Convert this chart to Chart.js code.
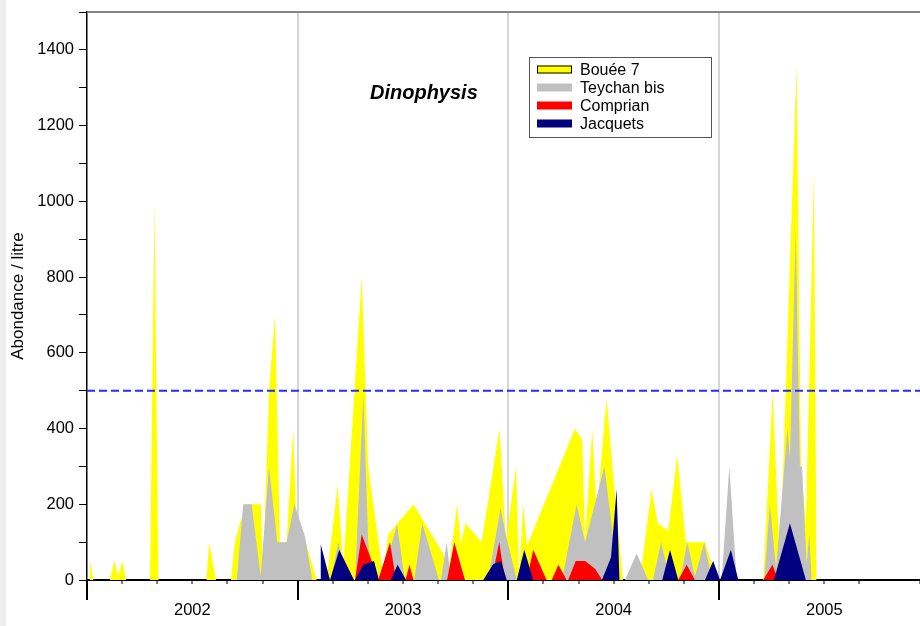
<!DOCTYPE html>
<html lang="fr">
<head>
<meta charset="UTF-8">
<title>Dinophysis</title>
<script src="https://cdn.jsdelivr.net/npm/chart.js@4.4.1/dist/chart.umd.min.js"></script>
<style>
  html, body { margin: 0; padding: 0; background: #fff; }
  #wrap { width: 920px; height: 626px; }
</style>
</head>
<body>
<div id="wrap"><canvas id="chart" width="920" height="626"></canvas></div>
<script>
// x values are months counted from January 2002
const YEARS = ["2002", "2003", "2004", "2005"];
const X_MAX = 47.45;
const THRESHOLD = 500;

const boueeMonths = [0.17, 0.37, 1.31, 1.555, 1.78, 2.01, 2.22, 3.59, 3.84, 4.07, 6.81, 6.95, 7.35, 8.20, 8.43, 8.71, 9.11, 9.91, 10.02, 10.37,
  10.71, 10.99, 11.37, 11.75, 11.90, 13.08, 13.65, 14.28, 14.60, 15.65, 16.02, 16.86, 17.16, 18.60, 20.28, 20.62, 21.09, 21.30, 21.56, 22.48,
  23.50, 23.87, 24.44, 24.61, 24.85, 25.06, 27.80, 28.21, 28.37, 28.78, 29.03, 29.60, 30.08, 30.53, 31.50, 32.16, 32.51, 33.11, 33.62, 34.12,
  35.20, 35.67, 35.83, 38.52, 39.06, 39.47, 40.42, 40.67, 40.95, 41.41, 41.56];
const boueeValues = [50, 0, 0, 50, 10, 50, 0, 0, 1000, 0, 0, 100, 0, 0, 100, 150, 200, 200, 15, 500,
  700, 100, 100, 400, 190, 0, 0, 250, 35, 800, 300, 15, 120, 200, 70, 30, 200, 95, 150, 100,
  400, 105, 300, 10, 200, 90, 400, 370, 105, 400, 175, 480, 220, 0, 0, 240, 150, 130, 330, 100,
  100, 30, 0, 0, 500, 35, 1360, 300, 150, 1080, 0];

const teychanMonths = [8.53, 8.90, 9.38, 9.89, 10.37, 10.84, 11.37, 11.81, 12.42, 12.83, 13.90, 14.31, 14.81, 15.27, 15.74, 16.02, 16.29, 16.80,
  17.66, 18.11, 18.64, 19.10, 20.05, 20.16, 20.49, 20.73, 22.84, 23.56, 23.81, 24.48, 27.06, 27.89, 28.37, 29.47, 29.90, 30.19, 30.64, 31.31,
  31.97, 32.24, 32.70, 33.21, 33.78, 34.19, 34.63, 35.16, 35.60, 36.15, 36.59, 37.01, 38.58, 38.90, 39.25, 39.90, 40.04, 40.37, 40.61, 40.73,
  40.99, 41.14, 41.28];
const teychanValues = [0, 200, 200, 10, 300, 100, 100, 200, 115, 0, 0, 100, 0, 0, 490, 100, 0, 0,
  148, 0, 0, 150, 0, 0, 100, 0, 0, 190, 130, 0, 0, 200, 100, 300, 140, 0, 0, 70,
  0, 0, 100, 0, 0, 100, 10, 100, 0, 0, 300, 0, 0, 200, 30, 400, 320, 920, 300, 300,
  40, 120, 0];

const comprianMonths = [15.27, 15.65, 16.22, 16.59, 17.26, 17.60, 18.14, 18.37, 18.60, 20.51, 20.92, 21.53, 23.05, 23.48, 23.81, 25.05, 25.42,
  26.18, 26.47, 26.85, 27.32, 27.41, 27.84, 28.37, 28.94, 29.35, 33.68, 34.16, 34.63, 38.52, 39.04, 39.38];
const comprianValues = [0, 120, 50, 0, 100, 0, 0, 40, 0, 0, 100, 0, 0, 100, 0, 0, 80,
  0, 0, 40, 0, 0, 50, 50, 30, 0, 0, 40, 0, 0, 40, 0];

const jacquetsMonths = [13.29, 13.31, 13.84, 14.37, 15.21, 15.27, 15.74, 16.35, 16.63, 17.30, 17.69, 18.17, 22.57, 23.14, 23.58, 23.91, 24.48,
  24.91, 25.42, 29.33, 29.85, 30.17, 30.33, 32.77, 33.21, 33.68, 35.20, 35.67, 36.06, 36.11, 36.68, 37.10, 39.13, 40.04, 40.95];
const jacquetsValues = [0, 95, 0, 80, 0, 0, 40, 50, 0, 0, 40, 0, 0, 42, 50, 0, 0,
  80, 0, 0, 60, 240, 0, 0, 80, 0, 0, 50, 0, 0, 80, 0, 0, 150, 0];

const SERIES = [
  { name: "Bouée 7", months: boueeMonths, values: boueeValues, color: "#ffff00", order: 4 },
  { name: "Teychan bis", months: teychanMonths, values: teychanValues, color: "#c0c0c0", order: 3 },
  { name: "Comprian", months: comprianMonths, values: comprianValues, color: "#ff0000", order: 2 },
  { name: "Jacquets", months: jacquetsMonths, values: jacquetsValues, color: "#000080", order: 1 }
];

const FONT = "'Liberation Sans', Arial, sans-serif";

const toPoints = (xs, ys) => xs.map((x, i) => ({ x: x, y: ys[i] }));

const datasets = SERIES.map(s => ({
  label: s.name,
  data: toPoints(s.months, s.values),
  backgroundColor: s.color,
  borderColor: s.color,
  borderWidth: 0,
  pointRadius: 0,
  tension: 0,
  fill: "origin",
  order: s.order
}));

datasets.push({
  label: "seuil",
  data: [{ x: 0, y: THRESHOLD }, { x: X_MAX, y: THRESHOLD }],
  borderColor: "#2a2aff",
  borderWidth: 2,
  borderDash: [8, 4],
  pointRadius: 0,
  fill: false,
  order: 0
});

// white background, year ticks, frame line, title and boxed legend
const decorations = {
  id: "decorations",
  beforeDraw(chart) {
    const c = chart.ctx;
    c.save();
    c.fillStyle = "#fff";
    c.fillRect(0, 0, chart.width, chart.height);
    c.fillStyle = "#efefef";
    c.fillRect(0, 0, 6, chart.height);
    c.restore();
  },
  afterDraw(chart) {
    const c = chart.ctx;
    const area = chart.chartArea;
    const xs = chart.scales.x;
    c.save();

    // long ticks at year boundaries
    c.strokeStyle = "#000";
    c.lineWidth = 2;
    [0, 12, 24, 36].forEach(m => {
      const px = Math.round(xs.getPixelForValue(m));
      c.beginPath();
      c.moveTo(px, area.bottom);
      c.lineTo(px, area.bottom + 20);
      c.stroke();
    });

    // top frame line
    c.strokeStyle = "#858585";
    c.lineWidth = 2;
    c.beginPath();
    c.moveTo(area.left, area.top);
    c.lineTo(area.right, area.top);
    c.stroke();

    // title
    c.fillStyle = "#000";
    c.font = "italic bold 20px " + FONT;
    c.textAlign = "left";
    c.textBaseline = "middle";
    c.fillText("Dinophysis", 370, 93);

    // legend
    c.strokeStyle = "#555";
    c.lineWidth = 1;
    c.strokeRect(529.5, 57.5, 182, 80);
    c.font = "16px " + FONT;
    SERIES.forEach((s, i) => {
      const y = 69.5 + i * 18;
      c.fillStyle = s.color;
      c.fillRect(537, y - 4, 35, 8);
      if (i === 0) {
        c.strokeStyle = "#000";
        c.strokeRect(537.5, y - 3.5, 34, 7);
      }
      c.fillStyle = "#000";
      c.fillText(s.name, 580, y + 1);
    });
    c.restore();
  }
};

new Chart(document.getElementById("chart"), {
  type: "line",
  data: { datasets: datasets },
  options: {
    responsive: false,
    animation: false,
    devicePixelRatio: 1,
    layout: { padding: { top: 12, right: 0, bottom: 0, left: 0 } },
    plugins: { legend: { display: false }, tooltip: { enabled: false } },
    scales: {
      x: {
        type: "linear",
        min: 0,
        max: X_MAX,
        border: { color: "#000", width: 2 },
        grid: {
          color: ctx => (ctx.tick && ctx.tick.value > 0 && ctx.tick.value % 12 === 0) ? "#d6d6d6" : "rgba(0,0,0,0)",
          lineWidth: 2,
          tickColor: "#000",
          tickLength: 4,
          tickWidth: 1
        },
        ticks: {
          stepSize: 2,
          autoSkip: false,
          maxRotation: 0,
          padding: 17,
          color: "#000",
          font: { family: FONT, size: 16.5 },
          callback: v => ((v - 6) % 12 === 0 && v >= 6) ? YEARS[(v - 6) / 12] : ""
        },
        afterFit: s => { s.height = 46; s.paddingLeft = 0; s.paddingRight = 0; }
      },
      y: {
        min: 0,
        max: 1500,
        border: { color: "#000", width: 1.5 },
        grid: { drawOnChartArea: false, tickColor: "#000", tickLength: 8 },
        ticks: {
          stepSize: 100,
          padding: 5,
          color: "#000",
          font: { family: FONT, size: 16.5 },
          callback: v => (v % 200 === 0 ? v : "")
        },
        title: {
          display: true,
          text: "Abondance / litre",
          color: "#000",
          font: { family: FONT, size: 17 },
          padding: { top: 8, bottom: 0 }
        },
        afterFit: s => { s.width = 87; s.paddingTop = 0; s.paddingBottom = 0; }
      }
    }
  },
  plugins: [decorations]
});
</script>
</body>
</html>
